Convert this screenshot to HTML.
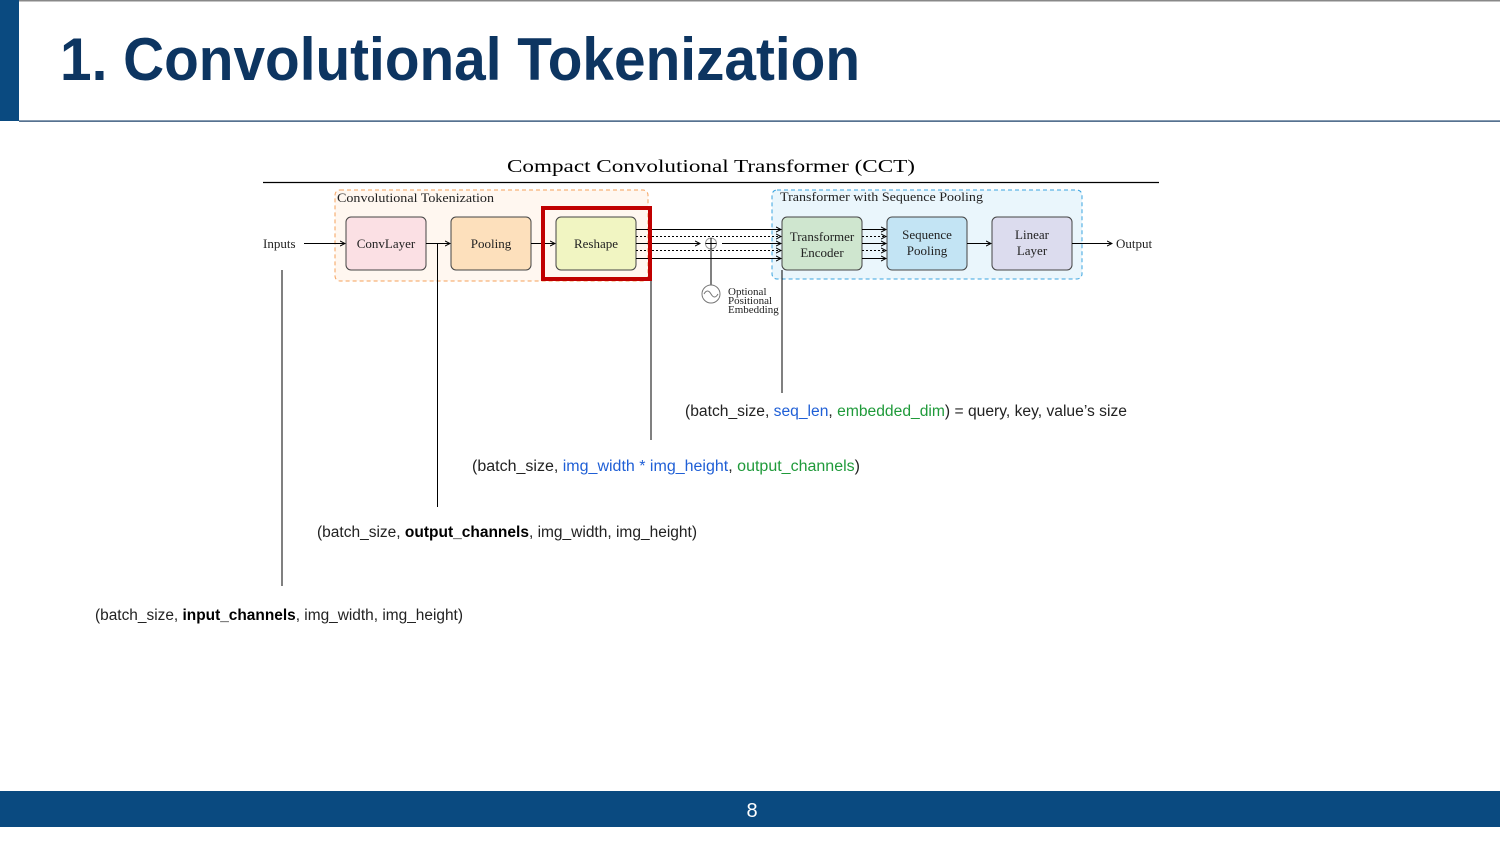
<!DOCTYPE html>
<html><head><meta charset="utf-8"><style>
html,body{margin:0;padding:0;background:#fff;}
svg{display:block;}
</style></head><body>
<svg width="1500" height="842" viewBox="0 0 1500 842" xmlns="http://www.w3.org/2000/svg">
<defs>
<marker id="a" markerWidth="6" markerHeight="6" refX="5" refY="3" orient="auto" markerUnits="userSpaceOnUse"><path d="M0,0.5 L5,3 L0,5.5" fill="none" stroke="#000" stroke-width="1"/></marker>
</defs>
<rect x="0" y="0" width="1500" height="1.5" fill="#888"/>
<rect x="0" y="0" width="19" height="121" fill="#0a4a80"/>
<rect x="19" y="120.5" width="1481" height="1.2" fill="#0d3561"/>
<text x="60" y="80" font-family="Liberation Sans, sans-serif" font-weight="bold" font-size="60" fill="#0d3561" textLength="800" lengthAdjust="spacingAndGlyphs">1. Convolutional Tokenization</text>

<text x="507" y="172" font-family="Liberation Serif, serif" font-size="18" textLength="408" lengthAdjust="spacingAndGlyphs">Compact Convolutional Transformer (CCT)</text>
<line x1="263" y1="182.5" x2="1159" y2="182.5" stroke="#000" stroke-width="1.2"/>

<g font-family="Liberation Serif, serif" font-size="13" fill="#222">
<rect x="335" y="190" width="313" height="91" rx="5" fill="#fff7f0" stroke="#f5a05a" stroke-dasharray="4,3"/>
<text x="337" y="202" textLength="157" lengthAdjust="spacingAndGlyphs">Convolutional Tokenization</text>
<rect x="772" y="190" width="310" height="89" rx="5" fill="#eaf6fc" stroke="#3aa4e0" stroke-dasharray="4,3"/>
<text x="780" y="201" textLength="203" lengthAdjust="spacingAndGlyphs">Transformer with Sequence Pooling</text>

<rect x="346" y="217" width="80" height="53" rx="5" fill="#fbe0e4" stroke="#444"/>
<text x="386" y="248" text-anchor="middle">ConvLayer</text>
<rect x="451" y="217" width="80" height="53" rx="5" fill="#fde0bc" stroke="#444"/>
<text x="491" y="248" text-anchor="middle">Pooling</text>
<rect x="556" y="217" width="80" height="53" rx="5" fill="#f1f5c2" stroke="#444"/>
<text x="596" y="248" text-anchor="middle">Reshape</text>
<rect x="782" y="217" width="80" height="53" rx="5" fill="#cfe6cf" stroke="#444"/>
<text x="822" y="241" text-anchor="middle">Transformer</text>
<text x="822" y="257" text-anchor="middle">Encoder</text>
<rect x="887" y="217" width="80" height="53" rx="5" fill="#c3e4f4" stroke="#444"/>
<text x="927" y="239" text-anchor="middle">Sequence</text>
<text x="927" y="255" text-anchor="middle">Pooling</text>
<rect x="992" y="217" width="80" height="53" rx="5" fill="#dcdcee" stroke="#444"/>
<text x="1032" y="239" text-anchor="middle">Linear</text>
<text x="1032" y="255" text-anchor="middle">Layer</text>

<text x="263" y="248">Inputs</text>
<text x="1116" y="248">Output</text>
<text x="728" y="295" font-size="11">Optional</text>
<text x="728" y="304" font-size="11">Positional</text>
<text x="728" y="313" font-size="11">Embedding</text>
</g>

<g stroke="#000" stroke-width="1" fill="none">
<line x1="304" y1="243.5" x2="345" y2="243.5" marker-end="url(#a)"/>
<line x1="426" y1="243.5" x2="450" y2="243.5" marker-end="url(#a)"/>
<line x1="531" y1="243.5" x2="555" y2="243.5" marker-end="url(#a)"/>
<line x1="967" y1="243.5" x2="991" y2="243.5" marker-end="url(#a)"/>
<line x1="1072" y1="243.5" x2="1112" y2="243.5" marker-end="url(#a)"/>
<line x1="636" y1="229.5" x2="781" y2="229.5" marker-end="url(#a)"/>
<line x1="636" y1="236.5" x2="781" y2="236.5" stroke-dasharray="2,2" marker-end="url(#a)"/>
<line x1="636" y1="243.5" x2="700" y2="243.5" marker-end="url(#a)"/>
<line x1="722" y1="243.5" x2="781" y2="243.5" marker-end="url(#a)"/>
<line x1="636" y1="250.5" x2="781" y2="250.5" stroke-dasharray="2,2" marker-end="url(#a)"/>
<line x1="636" y1="258.5" x2="781" y2="258.5" marker-end="url(#a)"/>
<line x1="862" y1="229.5" x2="886" y2="229.5" marker-end="url(#a)"/>
<line x1="862" y1="236.5" x2="886" y2="236.5" stroke-dasharray="2,2" marker-end="url(#a)"/>
<line x1="862" y1="243.5" x2="886" y2="243.5" marker-end="url(#a)"/>
<line x1="862" y1="250.5" x2="886" y2="250.5" stroke-dasharray="2,2" marker-end="url(#a)"/>
<line x1="862" y1="258.5" x2="886" y2="258.5" marker-end="url(#a)"/>
<circle cx="711" cy="243.5" r="5.5" stroke="#999"/>
<line x1="711" y1="238" x2="711" y2="285"/>
<line x1="705.5" y1="243.5" x2="716.5" y2="243.5"/>
<circle cx="711" cy="294" r="9" stroke="#777"/>
<path d="M704,294 q3.5,-6 7,0 q3.5,6 7,0" stroke="#777"/>
<line x1="282" y1="270" x2="282" y2="586"/>
<line x1="437.5" y1="244" x2="437.5" y2="507"/>
<line x1="651" y1="280" x2="651" y2="440"/>
<line x1="782" y1="270" x2="782" y2="393"/>
</g>
<rect x="543" y="208" width="107" height="71" fill="none" stroke="#c00000" stroke-width="4"/>

<g font-family="Liberation Sans, sans-serif" font-size="15.5" fill="#222">
<text x="685" y="416" textLength="442" lengthAdjust="spacingAndGlyphs">(batch_size, <tspan fill="#1f5fd6">seq_len</tspan>, <tspan fill="#1f9a3a">embedded_dim</tspan>) = query, key, value’s size</text>
<text x="472" y="471" textLength="388" lengthAdjust="spacingAndGlyphs">(batch_size, <tspan fill="#1f5fd6">img_width * img_height</tspan>, <tspan fill="#1f9a3a">output_channels</tspan>)</text>
<text x="317" y="537" textLength="380" lengthAdjust="spacingAndGlyphs">(batch_size, <tspan font-weight="bold" fill="#000">output_channels</tspan>, img_width, img_height)</text>
<text x="95" y="620" textLength="368" lengthAdjust="spacingAndGlyphs">(batch_size, <tspan font-weight="bold" fill="#000">input_channels</tspan>, img_width, img_height)</text>
</g>

<rect x="0" y="791" width="1500" height="36" fill="#0a4a80"/>
<text x="752" y="817" text-anchor="middle" font-family="Liberation Sans, sans-serif" font-size="20" fill="#fff">8</text>
</svg>
</body></html>
